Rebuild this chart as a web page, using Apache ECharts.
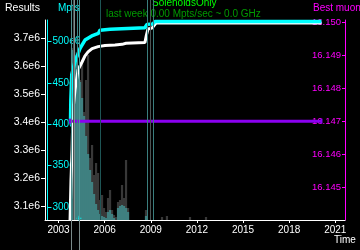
<!DOCTYPE html>
<html><head><meta charset="utf-8">
<script src="https://cdn.jsdelivr.net/npm/echarts@6/dist/echarts.min.js"></script>
<style>html,body{margin:0;padding:0;background:#000;overflow:hidden}#c{width:360px;height:250px}</style>
</head><body><div id="c"></div>
<script>
// ---- data ----
const timeTicks = [2003, 2006, 2009, 2012, 2015, 2018, 2021];
const resultsTicks = [3.1e6, 3.2e6, 3.3e6, 3.4e6, 3.5e6, 3.6e6, 3.7e6];
const mptsTicks = [300e6, 350e6, 400e6, 450e6, 500e6];
const muonTicks = [16.145, 16.146, 16.147, 16.148, 16.149, 16.150];

const resultsYears = [2003.75, 2003.78, 2003.81, 2003.88, 2003.94, 2004.07, 2004.27, 2004.53, 2004.72, 2004.92, 2005.18, 2005.57, 2006.02, 2006.67, 2007.13, 2007.39, 2008.62, 2008.72, 2008.82, 2009.08, 2009.34, 2020.10];
const resultsValues = [3.050e6, 3.121e6, 3.193e6, 3.300e6, 3.443e6, 3.514e6, 3.586e6, 3.614e6, 3.636e6, 3.650e6, 3.662e6, 3.669e6, 3.673e6, 3.675e6, 3.677e6, 3.681e6, 3.684e6, 3.711e6, 3.732e6, 3.735e6, 3.753e6, 3.753e6];

const mptsYears = [2003.78, 2003.80, 2003.86, 2004.07, 2004.40, 2004.72, 2005.16, 2005.59, 2005.70, 2006.35, 2008.62, 2008.75, 2009.14, 2009.27, 2020.10];
const mptsValues = [404e6, 429e6, 460e6, 476e6, 492e6, 502e6, 507e6, 510e6, 514e6, 515e6, 517e6, 521e6, 521.5e6, 524.5e6, 524.5e6];

const bestMuonYears = [2003.75, 2020.10];
const bestMuonValues = [16.147, 16.147];

const rateYears = [2003.88, 2004.01, 2004.14, 2004.27, 2004.40, 2004.53, 2004.66, 2004.79, 2004.92, 2005.05, 2005.18, 2005.31, 2005.44, 2005.57, 2005.70, 2005.83, 2005.96, 2006.09, 2006.22, 2006.35, 2006.48, 2006.61, 2006.74, 2006.87, 2007.00, 2007.13, 2007.26, 2007.39, 2007.52, 2008.69, 2009.73, 2010.05, 2011.55, 2012.59];
const rateTeal = [170, 168, 160, 152, 138, 122, 104, 84, 66, 50, 38, 26, 16, 10, 6, 4, 3, 2, 8, 10, 6, 2, 0, 12, 14, 15, 14, 12, 8, 4, 0, 0, 0, 0];
const rateGray = [172, 170, 165, 155, 140, 160, 108, 140, 165, 62, 75, 45, 57, 47, 20, 25, 12, 8, 22, 30, 10, 5, 3, 18, 20, 35, 22, 60, 12, 10, 3, 4, 3, 3];

const eventYears = [2003.81, 2003.94, 2004.04, 2004.20, 2004.33, 2005.70, 2008.76, 2008.95, 2009.15];
const eventBelowAxis = [true, false, false, false, true, false, false, false, false];

const markerYears = [2004.33];
const markerMpts = [286e6];

// ---- styles ----
const eventColors = ['#4f8f8f', '#4a5454', '#7f9090', '#3f8585', '#4f9595', '#1e5555', '#3a7e7e', '#4a5555', '#3a7e7e'];
const FONT = 'Liberation Sans, Arial, sans-serif';
const X_MIN = 2002.12, X_MAX = 2021.63;

function zip(a, b) { return a.map((v, i) => [v, b[i]]); }
function eventLines(filter, colorOverride) {
  return {
    silent: true, symbol: 'none', label: { show: false }, animation: false,
    emphasis: { disabled: true },
    data: eventYears.map((y, i) => ({ xAxis: y, _i: i }))
      .filter(d => filter(d._i))
      .map(d => ({ xAxis: d.xAxis, lineStyle: { color: colorOverride || eventColors[d._i], width: 1, type: 'solid', opacity: 1 } }))
  };
}
function hiddenX(gi) { return { type: 'value', gridIndex: gi, min: X_MIN, max: X_MAX, show: false }; }
function hiddenY(gi) { return { type: 'value', gridIndex: gi, min: 0, max: 1, show: false }; }

const chart = echarts.init(document.getElementById('c'), null, { renderer: 'canvas' });
chart.setOption({
  backgroundColor: '#000',
  animation: false,
  grid: [
    { left: 45, top: 20, width: 300, height: 200 },
    { left: 45, top: 0, width: 300, height: 20 },
    { left: 45, top: 220, width: 300, height: 30 }
  ],
  xAxis: [
    {
      type: 'value', gridIndex: 0, min: X_MIN, max: X_MAX,
      axisLine: { show: true, onZero: false, lineStyle: { color: '#fff', width: 1 } },
      axisTick: { show: true, customValues: timeTicks, length: 3, lineStyle: { color: '#fff' } },
      axisLabel: { customValues: timeTicks, color: '#fff', fontSize: 10, fontFamily: FONT, margin: 5, formatter: v => String(Math.round(v)) },
      splitLine: { show: false }
    },
    hiddenX(1), hiddenX(2)
  ],
  yAxis: [
    {
      type: 'value', gridIndex: 0, position: 'left', min: 3.05e6, max: 3.764e6,
      axisLine: { show: true, lineStyle: { color: '#fff', width: 1 } },
      axisTick: { show: true, customValues: resultsTicks, length: 4, lineStyle: { color: '#fff' } },
      axisLabel: { customValues: resultsTicks, color: '#fff', fontSize: 10.5, fontFamily: FONT, margin: 5, formatter: v => (v / 1e6).toFixed(1) + 'e6' },
      splitLine: { show: false }
    },
    {
      type: 'value', gridIndex: 0, position: 'left', offset: -2.5, min: 284e6, max: 526.3e6,
      axisLine: { show: true, lineStyle: { color: '#00ffff', width: 1 } },
      axisTick: { show: true, inside: true, customValues: mptsTicks, length: 4, lineStyle: { color: '#00ffff' } },
      axisLabel: { inside: true, customValues: mptsTicks, color: '#00ffff', fontSize: 10, fontFamily: FONT, margin: 5, formatter: v => Math.round(v / 1e6) + 'e6' },
      splitLine: { show: false }
    },
    {
      type: 'value', gridIndex: 0, position: 'right', min: 16.14401, max: 16.15006,
      axisLine: { show: true, lineStyle: { color: '#ff00ff', width: 1 } },
      axisTick: { show: true, inside: true, customValues: muonTicks, length: 3, lineStyle: { color: '#ff00ff' } },
      axisLabel: { inside: true, customValues: muonTicks, color: '#ff00ff', fontSize: 9.5, fontFamily: FONT, margin: 4, formatter: v => v.toFixed(3) },
      splitLine: { show: false }
    },
    { type: 'value', gridIndex: 0, min: 0, max: 200, show: false },
    hiddenY(1), hiddenY(2)
  ],
  graphic: [
    { type: 'text', left: 5, top: 3, style: { text: 'Results', fill: '#fff', font: '10.5px ' + FONT } },
    { type: 'text', left: 58, top: 3, style: { text: 'Mpts', fill: '#00ffff', font: '10px ' + FONT } },
    { type: 'text', left: 152, top: -2, style: { text: 'SolenoidsOnly', fill: '#00ff00', font: '10px ' + FONT } },
    { type: 'text', left: 106, top: 9, style: { text: 'last week 0.00 Mpts/sec ~ 0.0 GHz', fill: '#009a00', font: '10px ' + FONT } },
    { type: 'text', left: 313, top: 3, style: { text: 'Best muon', fill: '#ff00ff', font: '10px ' + FONT } },
    { type: 'text', left: 334, top: 235, style: { text: 'Time', fill: '#fff', font: '10px ' + FONT } }
  ],
  series: [
    { type: 'line', xAxisIndex: 1, yAxisIndex: 4, data: [], markLine: eventLines(() => true) },
    { type: 'line', xAxisIndex: 2, yAxisIndex: 5, data: [], markLine: eventLines(i => eventBelowAxis[i], '#7a8a8a') },
    { type: 'line', xAxisIndex: 0, yAxisIndex: 3, data: [], markLine: eventLines(() => true) },
    { type: 'bar', xAxisIndex: 0, yAxisIndex: 3, data: zip(rateYears, rateGray), barWidth: 2.2, barGap: '-100%', itemStyle: { color: '#383838' }, silent: true },
    { type: 'bar', xAxisIndex: 0, yAxisIndex: 3, data: zip(rateYears, rateTeal), barWidth: 2.2, barGap: '-100%', itemStyle: { color: '#3f8080' }, silent: true },
    { type: 'line', xAxisIndex: 0, yAxisIndex: 0, data: zip(resultsYears, resultsValues), showSymbol: false, lineStyle: { color: '#fff', width: 3 }, clip: true, silent: true },
    { type: 'line', xAxisIndex: 0, yAxisIndex: 1, data: zip(mptsYears, mptsValues), showSymbol: false, lineStyle: { color: '#00ffff', width: 3.5 }, clip: true, silent: true },
    { type: 'line', xAxisIndex: 0, yAxisIndex: 2, data: zip(bestMuonYears, bestMuonValues), symbol: 'rect', symbolSize: [2, 5], itemStyle: { color: '#8a00f0' }, lineStyle: { color: '#8a00f0', width: 3 }, silent: true },
    { type: 'scatter', xAxisIndex: 0, yAxisIndex: 1, data: zip(markerYears, markerMpts), symbol: 'path://M0,2h5v1h-5z M2,0h1v5h-1z', symbolSize: 5, itemStyle: { color: '#00ffff' }, silent: true }
  ]
});
</script></body></html>
